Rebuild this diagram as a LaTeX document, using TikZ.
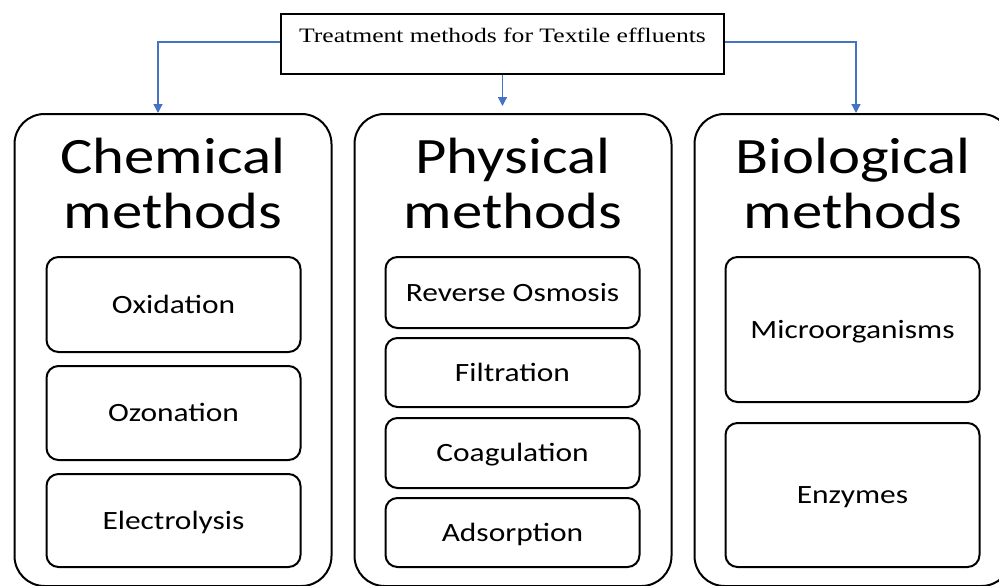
\documentclass[tikz,border=0pt]{standalone}
\usepackage{fontspec}
\setmainfont{Liberation Serif}[FakeStretch=1.25]
\setsansfont{Carlito}[FakeStretch=1.19]
\usetikzlibrary{arrows.meta}
\definecolor{arrowBlue}{RGB}{68,114,196}

\begin{document}
\begin{tikzpicture}
[x=1pt,y=-1pt,
  arrowDecorate/.style={-{Triangle[width=9pt,length=9pt]},line width=1.3pt,draw=arrowBlue},%
  titleDecorate/.style={shape=rectangle,draw,line width=2pt,minimum width=443pt,minimum height=60pt,
    inner sep=0pt,text height=14pt,text depth=16pt,font=\fontsize{20.5}{24}\selectfont},
  outerDecorate/.style={shape=rectangle,draw,line width=2pt,rounded corners=30pt,
    minimum width=317pt,minimum height=472pt},
  headDecorate/.style={align=center,inner sep=0pt,font=\sffamily\fontsize{51}{55}\selectfont},
  innerDecorate/.style={shape=rectangle,draw,line width=2pt,rounded corners=12pt,minimum width=254pt,
    inner sep=0pt,text height=17pt,text depth=0pt,font=\sffamily\fontsize{26.4}{30}\selectfont}]
\useasboundingbox (0,0) rectangle (999,586);
%% title
\node (title) at (502.5,44) [titleDecorate] {Treatment methods for Textile effluents};
%% method groups
\foreach \nodename/\x/\txt in {chem/173/Chemical, phys/513/Physical, bio/853/Biological}
{
  \node (\nodename) at (\x,350) [outerDecorate] {};
  \node (\nodename head) at (\x,183) [headDecorate] {\txt\\methods};
}
%% single methods
\foreach \nodename/\x/\y/\h/\txt in {
  ox/173.5/304.5/95/Oxidation, oz/173.5/413/94/Ozonation, el/173.5/520.5/93/Electrolysis,
  ro/512.5/292.5/71/Reverse Osmosis, fi/512.5/372.5/69/Filtration,
  co/512.5/453/70/Coagulation, ad/512.5/532.5/69/Adsorption,
  mi/852.5/329.5/145/Microorganisms, en/852.5/495/144/Enzymes}
{
  \node (\nodename) at (\x,\y) [innerDecorate,minimum height=\h pt] {\txt};
}
%% arrows
\draw[arrowDecorate] ([yshift=2pt]title.west) -| (158,0 |- chem.north);
\draw[arrowDecorate,shorten >=7pt] (title.south) -- (title.south |- phys.north);
\draw[arrowDecorate] ([yshift=2pt]title.east) -| (856,0 |- bio.north);
\end{tikzpicture}
\end{document}
